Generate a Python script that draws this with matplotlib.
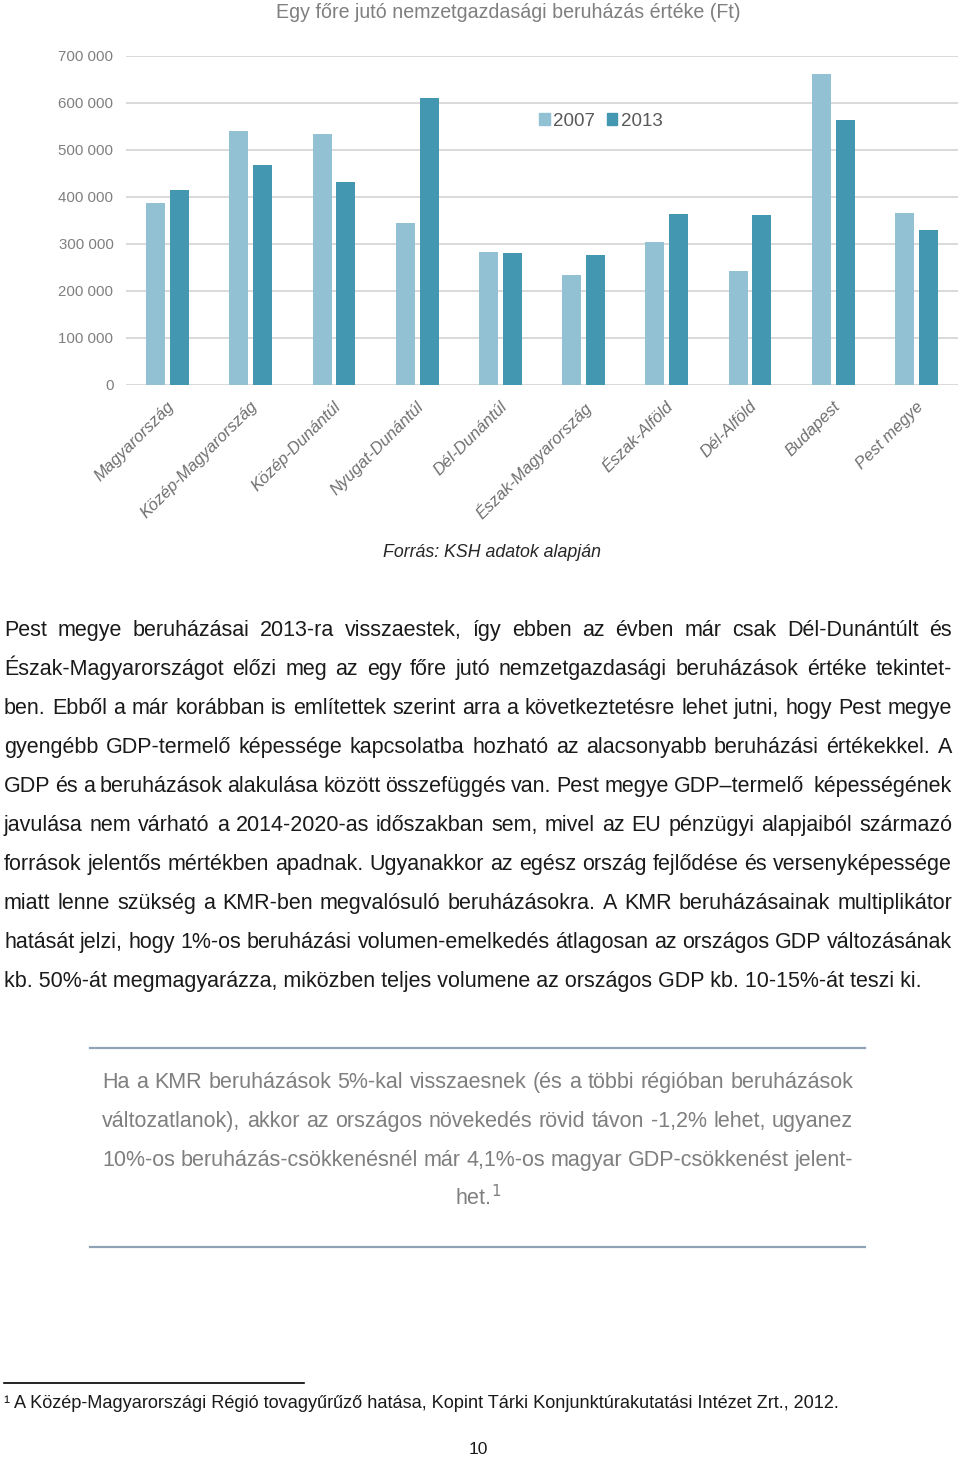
import matplotlib
matplotlib.use("Agg")
import matplotlib.pyplot as plt
import matplotlib.transforms as mtransforms
from matplotlib.patches import Patch
import numpy as np

W, H = 960, 1458

# adatok
regiok = ["Magyarország", "Közép-Magyarország", "Közép-Dunántúl", "Nyugat-Dunántúl",
          "Dél-Dunántúl", "Észak-Magyarország", "Észak-Alföld", "Dél-Alföld",
          "Budapest", "Pest megye"]
ertek_2007 = [386000, 539000, 533000, 344000, 283000, 233000, 304000, 243000, 660000, 366000]
ertek_2013 = [415000, 467000, 432000, 609000, 281000, 276000, 363000, 361000, 563000, 329000]
y_ticks = [0, 100000, 200000, 300000, 400000, 500000, 600000, 700000]
y_labels = ["0", "100 000", "200 000", "300 000", "400 000", "500 000", "600 000", "700 000"]
evek = ["2007", "2013"]

cim = "Egy főre jutó nemzetgazdasági beruházás értéke (Ft)"
forras = "Forrás: KSH adatok alapján"

bekezdes = [
    "Pest megye beruházásai 2013-ra visszaestek, így ebben az évben már csak Dél-Dunántúlt és",
    "Észak-Magyarországot előzi meg az egy főre jutó nemzetgazdasági beruházások értéke tekintet-",
    "ben. Ebből a már korábban is említettek szerint arra a következtetésre lehet jutni, hogy Pest megye",
    "gyengébb GDP-termelő képessége kapcsolatba hozható az alacsonyabb beruházási értékekkel. A",
    "GDP és a beruházások alakulása között összefüggés van. Pest megye GDP–termelő  képességének",
    "javulása nem várható a 2014-2020-as időszakban sem, mivel az EU pénzügyi alapjaiból származó",
    "források jelentős mértékben apadnak. Ugyanakkor az egész ország fejlődése és versenyképessége",
    "miatt lenne szükség a KMR-ben megvalósuló beruházásokra. A KMR beruházásainak multiplikátor",
    "hatását jelzi, hogy 1%-os beruházási volumen-emelkedés átlagosan az országos GDP változásának",
    "kb. 50%-át megmagyarázza, miközben teljes volumene az országos GDP kb. 10-15%-át teszi ki.",
]
idezet = [
    "Ha a KMR beruházások 5%-kal visszaesnek (és a többi régióban beruházások",
    "változatlanok), akkor az országos növekedés rövid távon -1,2% lehet, ugyanez",
    "10%-os beruházás-csökkenésnél már 4,1%-os magyar GDP-csökkenést jelent-",
]
idezet_vege = "het."
labjegyzet = "A Közép-Magyarországi Régió tovagyűrűző hatása, Kopint Tárki Konjunktúrakutatási Intézet Zrt., 2012."
oldalszam = "10"

C07 = "#92C1D4"
C13 = "#4397B0"
SZURKE = "#7F7F7F"
SANS = ["Liberation Sans", "DejaVu Sans"]

fig = plt.figure(figsize=(W / 100, H / 100), dpi=100)
renderer = fig.canvas.get_renderer()


def fy(y):
    return 1 - y / H


# diagram
ax = fig.add_axes([126 / W, fy(385), 832 / W, 329.5 / H])
x = np.arange(len(regiok))
ax.bar(x - 0.144, ertek_2007, 0.228, color=C07, label=evek[0], zorder=3)
ax.bar(x + 0.144, ertek_2013, 0.228, color=C13, label=evek[1], zorder=3)
ax.set_xlim(-0.5, len(regiok) - 0.5)
ax.set_ylim(0, 700000)
ax.set_yticks(y_ticks)
ax.set_yticklabels(y_labels, fontsize=10.8, color=SZURKE, family=SANS)
ax.yaxis.grid(True, color="#D9D9D9", linewidth=1.4)
ax.set_axisbelow(True)
for s in ax.spines.values():
    s.set_visible(False)
ax.tick_params(length=0)
ax.tick_params(axis="y", pad=9)
ax.set_xticks(x)
ax.set_xticklabels(regiok, rotation=45, ha="right", va="top", rotation_mode="anchor",
                   fontsize=12, style="italic", color="#6F6F6F", family=SANS)
ax.tick_params(axis="x", pad=10)
eltol = mtransforms.ScaledTranslation(-1 / 100, 0, fig.dpi_scale_trans)
for lbl in ax.get_xticklabels():
    lbl.set_transform(lbl.get_transform() + eltol)

fig.legend(handles=[Patch(color=C07, label=evek[0]), Patch(color=C13, label=evek[1])],
           loc="center", bbox_to_anchor=(601 / W, fy(121)), ncol=2, frameon=False,
           handlelength=0.55, handleheight=0.55, handletextpad=0.2, columnspacing=0.6,
           prop={"family": SANS, "size": 13.5}, labelcolor="#595959")

fig.text(508 / W, fy(12), cim, ha="center", va="center", fontsize=14.1,
         color=SZURKE, family=SANS)
fig.text(492 / W, fy(552), forras, ha="center", va="center", fontsize=12.8,
         style="italic", color="#262626", family=SANS)


def sorkizart(sor, x0, x1, y, **kw):
    # sorkizart sor: a szavak kozti hezag kitolti a sort
    szavak = sor.split(" ")
    tt = [fig.text(0, fy(y), w, ha="left", va="baseline", **kw) for w in szavak]
    sz = [t.get_window_extent(renderer).width for t in tt]
    hezag = (x1 - x0 - sum(sz)) / (len(szavak) - 1)
    xx = x0
    for t, w in zip(tt, sz):
        t.set_x(xx / W)
        xx += w + hezag


# szoveg (alapvonalak)
for i, sor in enumerate(bekezdes):
    y = 636 + 39 * i
    if i < len(bekezdes) - 1:
        sorkizart(sor, 4, 952, y, fontsize=15.5, color="#1A1A1A", family=SANS)
    else:
        fig.text(4 / W, fy(y), sor, ha="left", va="baseline", fontsize=15.5,
                 color="#1A1A1A", family=SANS)

# kiemelt idezet
for yv in (1048, 1247):
    fig.add_artist(plt.Line2D([90 / W, 865 / W], [fy(yv), fy(yv)], color="#8FA2B6", lw=1.6))
for i, sor in enumerate(idezet):
    sorkizart(sor, 102, 853, 1088 + 39 * i, fontsize=15.5, color=SZURKE, family=SANS)
fig.text(478 / W, fy(1205), idezet_vege + r"$^{\mathit{1}}$", ha="center", va="baseline",
         fontsize=15.5, color=SZURKE, family=SANS)

# labjegyzet
fig.add_artist(plt.Line2D([4 / W, 304 / W], [fy(1383), fy(1383)], color="black", lw=1.2))
fig.text(4 / W, fy(1404), "¹ " + labjegyzet, ha="left", va="center", fontsize=13.1,
         color="#1A1A1A", family=SANS)
fig.text(478 / W, fy(1450), oldalszam, ha="center", va="center", fontsize=12.5,
         color="#1A1A1A", family=SANS)

fig.savefig("out.png", dpi=100)
